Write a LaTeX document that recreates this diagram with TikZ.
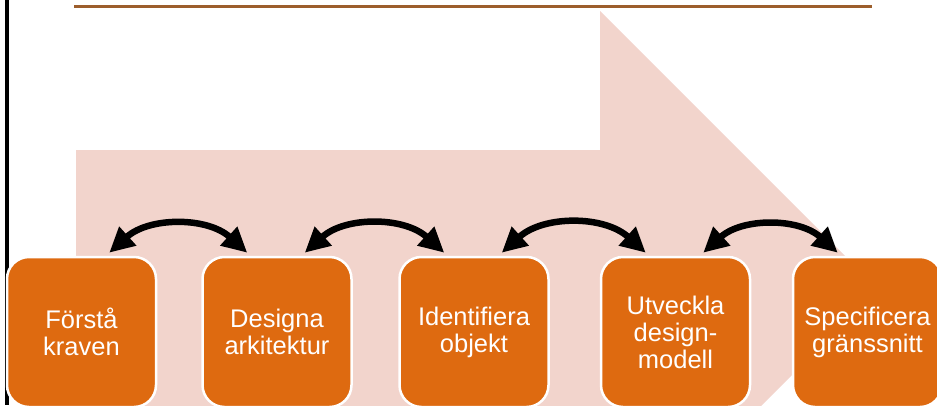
\documentclass[tikz,border=0pt]{standalone}
\usepackage{fontspec}
\setmainfont{Liberation Sans}
\usetikzlibrary{arrows.meta}
\definecolor{flowpink}{HTML}{F2D4CC}
\definecolor{steporange}{HTML}{DE6A10}
\definecolor{rulebrown}{HTML}{9C5E2C}
\begin{document}
\begin{tikzpicture}[x=1pt,y=-1pt,
  stepbox/.style={draw=white, line width=2.5pt, fill=steporange, rounded corners=22pt,
    minimum width=149pt, minimum height=150pt, inner sep=2pt, text=white,
    font=\fontsize{25.5}{27}\selectfont, align=center},
  linkarrow/.style={line width=6.5pt, {Triangle[length=25pt,width=24pt]}-{Triangle[length=25pt,width=24pt]},
    bend left=42}
]
\useasboundingbox (0,0) rectangle (937,405);
\clip (0,0) rectangle (937,405);

% large background arrow pointing right
\fill[flowpink] (76,150) -- (600,150) -- (600,11) -- (878,289) -- (600,567)
  -- (600,428) -- (76,428) -- cycle;

% top rule and left margin line
\draw[rulebrown, line width=3pt] (74,6) -- (872,6);
\draw[black, line width=4pt] (6.5,0) -- (6.5,405);

% process steps
\node[stepbox] (b1) at (81.5,332) {Förstå\\kraven};
\node[stepbox] (b2) at (277,332) {Designa\\arkitektur};
\node[stepbox] (b3) at (474,332) {Identifiera\\objekt};
\node[stepbox] (b4) at (675.5,332) {Utveckla\\design-\\modell};
\node[stepbox] (b5) at (867.5,332) {Specificera\\gränssnitt};

% two-way links between neighbouring steps
\foreach \a/\b in {b1/b2, b2/b3, b3/b4, b4/b5}
  \draw[linkarrow] ([shift={(-48pt,3pt)}]\a.north east) to ([shift={(46pt,3pt)}]\b.north west);
\end{tikzpicture}
\end{document}
